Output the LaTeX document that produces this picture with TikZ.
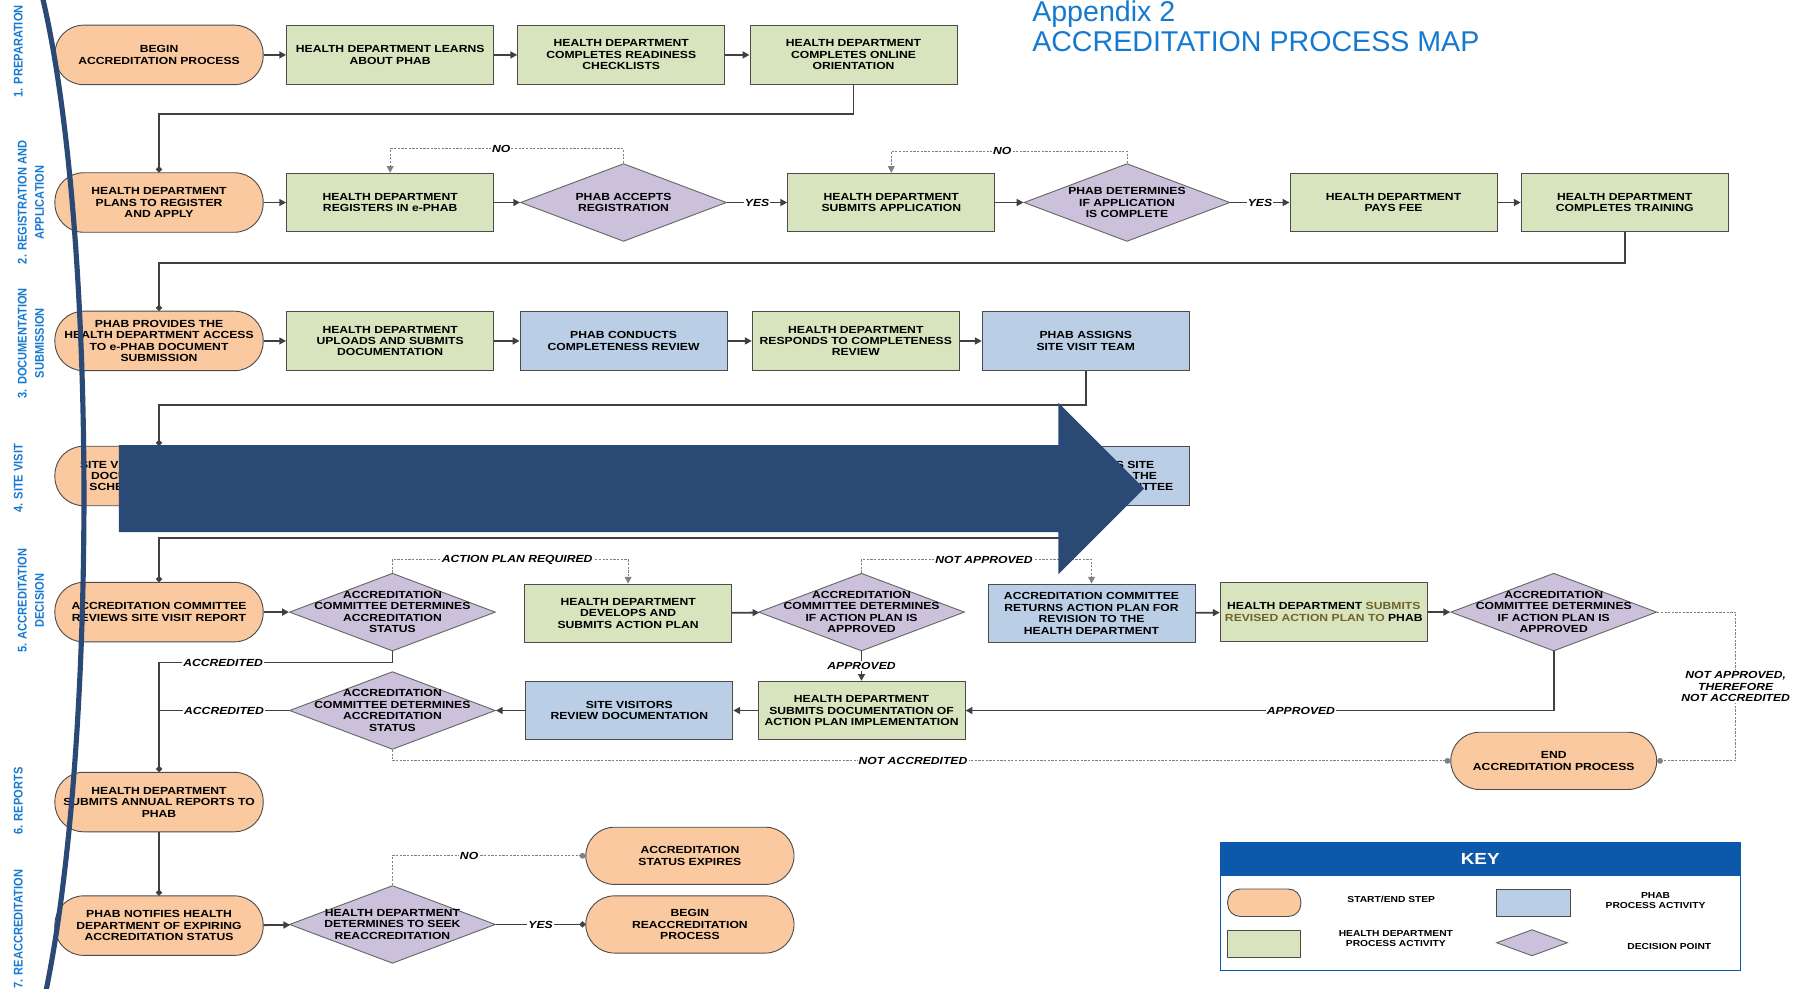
\documentclass[tikz,border=0pt]{standalone}
\usepackage{fontspec}
\newfontfamily\mapfont{Liberation Sans}[FakeStretch=1.18]
\newfontfamily\lanefont{Liberation Sans}[FakeStretch=0.88]
\newfontfamily\titlefont{Liberation Sans}
\usepackage{tikz}
\usetikzlibrary{shapes.geometric, arrows.meta}
\usepackage[dvipsnames]{xcolor}
\definecolor{peach}{RGB}{250,201,160}
\definecolor{sage}{RGB}{216,228,190}
\definecolor{sky}{RGB}{186,206,230}
\definecolor{lilac}{RGB}{203,193,219}
\definecolor{linegray}{RGB}{64,64,64}
\definecolor{navy}{RGB}{42,73,117}
\definecolor{titleblue}{RGB}{22,121,208}
\definecolor{keyblue}{RGB}{12,88,170}
\definecolor{revtext}{RGB}{110,100,40}
\newcommand\cardfont{\mapfont\bfseries\fontsize{9}{10}\selectfont}
\newcommand\keyfont{\mapfont\bfseries\fontsize{7.6}{8.6}\selectfont}

\begin{document}
\begin{tikzpicture}[x=1pt, y=-1pt,
  start/.style = {draw=black!70, line width=0.8pt, fill=peach, rounded corners=25pt, minimum width=182pt, minimum height=52pt, inner sep=1pt, align=center, font=\cardfont},
  hd/.style = {draw=black!70, line width=0.8pt, fill=sage, minimum width=181pt, minimum height=51pt, inner sep=1pt, align=center, font=\cardfont},
  phab/.style = {hd, fill=sky},
  dec/.style = {diamond, draw=black!60, line width=0.8pt, fill=lilac, minimum width=180pt, minimum height=68pt, inner sep=0pt},
  dtext/.style = {align=center, inner sep=0pt, font=\cardfont},
  link/.style = {draw=linegray, line width=1.6pt},
  flow/.style = {link, -{Triangle[length=6pt, width=6pt]}},
  dotflow/.style = {link, -{Circle[length=5pt]}},
  branch/.style = {draw=gray, line width=0.8pt, dash pattern=on 2pt off 1.2pt, -{Triangle[length=6pt, width=6pt]}},
  lbl/.style = {fill=white, inner sep=1pt, align=center, font=\mapfont\bfseries\itshape\fontsize{9}{10}\selectfont},
  lane/.style = {rotate=90, align=center, text=titleblue, inner sep=0pt, font=\lanefont\bfseries\fontsize{11}{15}\selectfont},
  keytext/.style = {align=center, inner sep=0pt, font=\keyfont}]
  \useasboundingbox (0,0) rectangle (1568,864);

  \node[anchor=base west, inner sep=0pt, text=titleblue, font=\titlefont\fontsize{25}{26}\selectfont] (t1) at (902,19) {Appendix 2};
  \node[anchor=base west, inner sep=0pt, text=titleblue, font=\titlefont\fontsize{25}{26}\selectfont] (t2) at (902,45) {ACCREDITATION PROCESS MAP};

  \node[lane] (s1) at (16,45) {1. PREPARATION};
  \node[lane] (s2) at (27,177) {2. REGISTRATION AND\\APPLICATION};
  \node[lane] (s3) at (27,300) {3. DOCUMENTATION\\SUBMISSION};
  \node[lane] (s4) at (16,418) {4. SITE VISIT};
  \node[lane] (s5) at (27,525) {5. ACCREDITATION\\DECISION};
  \node[lane] (s6) at (16,700) {6. REPORTS};
  \node[lane] (s7) at (16,812) {7. REACCREDITATION};

  \node[start] (11) at (139,48) {BEGIN\\ACCREDITATION PROCESS};
  \node[hd] (12) at (341,48) {HEALTH DEPARTMENT LEARNS\\ABOUT PHAB};
  \node[hd] (13) at (543,48) {HEALTH DEPARTMENT\\COMPLETES READINESS\\CHECKLISTS};
  \node[hd] (14) at (746,48) {HEALTH DEPARTMENT\\COMPLETES ONLINE\\ORIENTATION};

  \node[start] (21) at (139,177) {HEALTH DEPARTMENT\\PLANS TO REGISTER\\AND APPLY};
  \node[hd] (22) at (341,177) {HEALTH DEPARTMENT\\REGISTERS IN e-PHAB};
  \node[dec, label={[dtext]center:PHAB ACCEPTS\\REGISTRATION}] (23) at (545,177) {};
  \node[hd] (24) at (779,177) {HEALTH DEPARTMENT\\SUBMITS APPLICATION};
  \node[dec, label={[dtext]center:PHAB DETERMINES\\IF APPLICATION\\IS COMPLETE}] (25) at (985,177) {};
  \node[hd] (26) at (1218,177) {HEALTH DEPARTMENT\\PAYS FEE};
  \node[hd] (27) at (1420,177) {HEALTH DEPARTMENT\\COMPLETES TRAINING};

  \node[start] (31) at (139,298) {PHAB PROVIDES THE\\HEALTH DEPARTMENT ACCESS\\TO e-PHAB DOCUMENT\\SUBMISSION};
  \node[hd] (32) at (341,298) {HEALTH DEPARTMENT\\UPLOADS AND SUBMITS\\DOCUMENTATION};
  \node[phab] (33) at (545,298) {PHAB CONDUCTS\\COMPLETENESS REVIEW};
  \node[hd] (34) at (748,298) {HEALTH DEPARTMENT\\RESPONDS TO COMPLETENESS\\REVIEW};
  \node[phab] (35) at (949,298) {PHAB ASSIGNS\\SITE VISIT TEAM};

  \node[start] (41) at (139,416) {SITE VISIT TEAM REVIEWS\\DOCUMENTATION AND\\SCHEDULES SITE VISIT};
  \node[phab] (42) at (949,416) {PHAB CONDUCTS SITE\\VISIT, REPORTS TO THE\\ACCREDITATION COMMITTEE};

  \node[start] (51) at (139,535) {ACCREDITATION COMMITTEE\\REVIEWS SITE VISIT REPORT};
  \node[dec, label={[dtext]center:ACCREDITATION\\COMMITTEE DETERMINES\\ACCREDITATION\\STATUS}] (52) at (343,535) {};
  \node[hd] (53) at (549,536) {HEALTH DEPARTMENT\\DEVELOPS AND\\SUBMITS ACTION PLAN};
  \node[dec, label={[dtext]center:ACCREDITATION\\COMMITTEE DETERMINES\\IF ACTION PLAN IS\\APPROVED}] (54) at (753,535) {};
  \node[phab] (55) at (954,536) {ACCREDITATION COMMITTEE\\RETURNS ACTION PLAN FOR\\REVISION TO THE\\HEALTH DEPARTMENT};
  \node[hd] (56) at (1157,535) {HEALTH DEPARTMENT {\color{revtext}SUBMITS}\\{\color{revtext}REVISED ACTION PLAN TO} PHAB};
  \node[dec, label={[dtext]center:ACCREDITATION\\COMMITTEE DETERMINES\\IF ACTION PLAN IS\\APPROVED}] (57) at (1358,535) {};
  \node[hd] (58) at (753,621) {HEALTH DEPARTMENT\\SUBMITS DOCUMENTATION OF\\ACTION PLAN IMPLEMENTATION};
  \node[phab] (59) at (550,621) {SITE VISITORS\\REVIEW DOCUMENTATION};
  \node[dec, label={[dtext]center:ACCREDITATION\\COMMITTEE DETERMINES\\ACCREDITATION\\STATUS}] (510) at (343,621) {};
  \node[start, minimum width=180pt, minimum height=50pt] (511) at (1358,665) {END\\ACCREDITATION PROCESS};

  \node[start] (61) at (139,701) {HEALTH DEPARTMENT\\SUBMITS ANNUAL REPORTS TO\\PHAB};

  \node[start] (71) at (139,809) {PHAB NOTIFIES HEALTH\\DEPARTMENT OF EXPIRING\\ACCREDITATION STATUS};
  \node[dec, label={[dtext]center:HEALTH DEPARTMENT\\DETERMINES TO SEEK\\REACCREDITATION}] (72) at (343,808) {};
  \node[start, minimum height=50pt] (73) at (603,808) {BEGIN\\REACCREDITATION\\PROCESS};
  \node[start, minimum height=50pt] (74) at (603,748) {ACCREDITATION\\STATUS EXPIRES};

  \coordinate (c1) at (139,100);
  \coordinate (c2) at (139,230);
  \coordinate (c3) at (139,354);
  \coordinate (c4) at (139,470);
  \coordinate (n1) at (438,130);
  \coordinate (n2) at (876,132);
  \coordinate (r1) at (452,489);
  \coordinate (r2) at (860,489);
  \coordinate (r3) at (1137,621);
  \coordinate (r4) at (1517,600);
  \coordinate (r5) at (798,665);
  \coordinate (a1) at (195,579);
  \coordinate (a2) at (139,579);
  \coordinate (a4) at (139,621);
  \coordinate (e1) at (410,748);

  \draw[flow] (11) -- (12);
  \draw[flow] (12) -- (13);
  \draw[flow] (13) -- (14);
  \draw[dotflow] (14.south) |- (c1) -- (21.north);

  \draw[flow] (21) -- (22);
  \draw[flow] (22) -- (23);
  \draw[flow] (23) -- node[lbl]{YES} (24);
  \draw[flow] (24) -- (25);
  \draw[flow] (25) -- node[lbl]{YES} (26);
  \draw[flow] (26) -- (27);
  \draw[branch] (23.north) |- (n1) node[lbl]{NO} -| (22.north);
  \draw[branch] (25.north) |- (n2) node[lbl]{NO} -| (24.north);
  \draw[dotflow] (27.south) |- (c2) -- (31.north);

  \draw[flow] (31) -- (32);
  \draw[flow] (32) -- (33);
  \draw[flow] (33) -- (34);
  \draw[flow] (34) -- (35);
  \draw[dotflow] (35.south) |- (c3) -- (41.north);

  \draw[dotflow] (42.south) |- (c4) -- (51.north);

  \draw[flow] (51) -- (52);
  \draw[branch] (52.north) |- (r1) node[lbl]{ACTION PLAN REQUIRED} -| (53.north);
  \draw[flow] (53) -- (54);
  \draw[branch] (54.north) |- (r2) node[lbl]{NOT APPROVED} -| (55.north);
  \draw[flow] (55) -- (56);
  \draw[flow] (56) -- (57);
  \draw[flow] (54.south) -- node[lbl]{APPROVED} (58.north);
  \draw[flow] (57.south) |- (r3) node[lbl]{APPROVED} -- (58.east);
  \draw[flow] (58) -- (59);
  \draw[flow] (59) -- (510);
  \draw[branch, -{Circle[length=5pt]}] (57.east) -| (r4) node[lbl]{NOT APPROVED,\\THEREFORE\\NOT ACCREDITED} |- (511.east);
  \draw[branch, -{Circle[length=5pt]}] (510.south) |- (r5) node[lbl]{NOT ACCREDITED} -- (511.west);
  \draw[link] (52.south) |- (a1) node[lbl]{ACCREDITED} -- (a2);
  \draw[link] (510.west) -- node[lbl]{ACCREDITED} (a4);
  \draw[dotflow] (a2) -- (61.north);

  \draw[dotflow] (61) -- (71);
  \draw[flow] (71) -- (72);
  \draw[dotflow] (72) -- node[lbl]{YES} (73);
  \draw[branch, -{Circle[length=5pt]}] (72.north) |- (e1) node[lbl]{NO} -- (74.west);

  \node[draw=keyblue, line width=1pt, minimum width=455pt, minimum height=112pt, anchor=north west] (80) at (1066,736) {};
  \node[fill=keyblue, minimum width=455pt, minimum height=29pt, anchor=north west, text=white, font=\mapfont\bfseries\fontsize{14}{14}\selectfont] (81) at (1066,736) {KEY};
  \node[start, minimum width=64pt, minimum height=24pt, rounded corners=11pt] (82) at (1105,789) {};
  \node[keytext] (83) at (1216,786) {START/END STEP};
  \node[phab, minimum width=65pt, minimum height=24pt] (84) at (1340,789) {};
  \node[keytext] (85) at (1447,787) {PHAB\\PROCESS ACTIVITY};
  \node[hd, minimum width=64pt, minimum height=23pt] (86) at (1105,825) {};
  \node[keytext] (87) at (1220,820) {HEALTH DEPARTMENT\\PROCESS ACTIVITY};
  \node[dec, minimum width=62pt, minimum height=23pt] (88) at (1339,824) {};
  \node[keytext] (89) at (1459,827) {DECISION POINT};

  \fill[navy] (104,389) -- (925,389) -- (925,352) -- (1000,427) -- (925,502) -- (925,465) -- (104,465) -- cycle;
  \draw[navy, line width=4.5pt] (37,-3) .. controls (85,200) and (85,650) .. (40,867);
\end{tikzpicture}
\end{document}
